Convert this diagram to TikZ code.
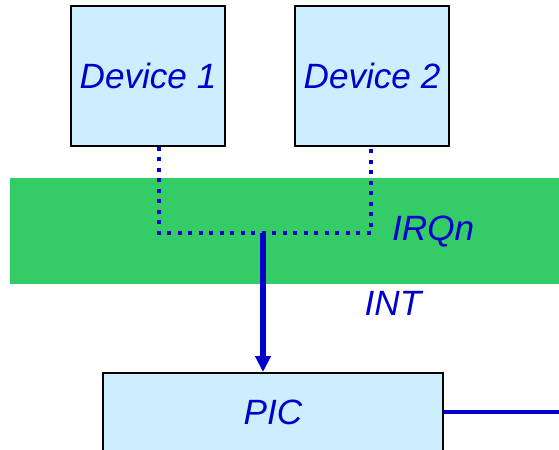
\documentclass[tikz,border=0pt]{standalone}
\usepackage{fontspec}
\setmainfont{Liberation Sans}
\usetikzlibrary{arrows.meta}
\definecolor{boxblue}{HTML}{CCEEFF}
\definecolor{busgreen}{HTML}{33CC66}
\definecolor{textblue}{HTML}{0000CC}
\begin{document}
\begin{tikzpicture}[x=0.02cm, y=-0.02cm,
    devbox/.style={draw=black, line width=1.1pt, fill=boxblue, text=textblue,
      font=\fontsize{20}{24}\selectfont\itshape, inner sep=0pt},
    sigline/.style={draw=textblue, line width=2.3pt},
    siglabel/.style={text=textblue, font=\fontsize{20}{24}\selectfont\itshape}]
    \useasboundingbox (0,0) rectangle (559,450);

    % Bus band
    \fill[busgreen] (10,178) rectangle (559,284);

    % Devices
    \node[devbox, minimum width=154*0.02cm, minimum height=140*0.02cm] (dev1) at (148,76) {Device 1};
    \node[devbox, minimum width=154*0.02cm, minimum height=140*0.02cm] (dev2) at (372,76) {Device 2};

    % Controller
    \node[devbox, minimum width=340*0.02cm, minimum height=78*0.02cm] (pic) at (273,412) {PIC};

    % IRQ lines
    \coordinate (j1) at (159,233);
    \coordinate (j2) at (371,233);
    \coordinate (tap) at (263,233);
    \draw[sigline, line width=2.4pt, dash pattern=on 0.08cm off 0.13cm] (dev1.south -| j1) -- (j1) -- (j2) -- (dev2.south -| j2);
    \node[siglabel, anchor=west] (irq) at (386,232) {IRQn};

    % INT to PIC
    \draw[sigline, line width=2.9pt, -{Triangle[length=0.32cm, width=0.3cm]}] (tap) -- (tap |- pic.north);
    \node[siglabel] (int) at (393,303) {INT};

    % Output
    \coordinate (out) at (559,412);
    \draw[sigline, line width=2pt] (pic.east) -- (out);
\end{tikzpicture}
\end{document}
